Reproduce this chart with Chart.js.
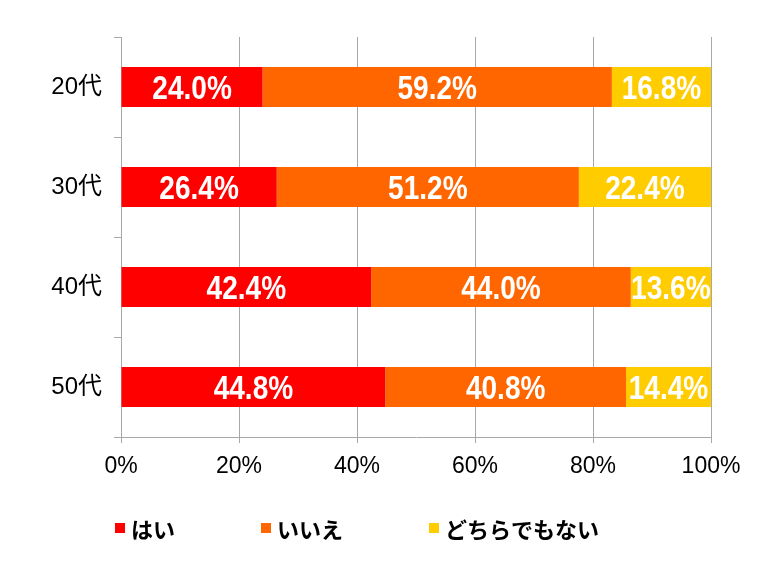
<!DOCTYPE html>
<html>
<head>
<meta charset="utf-8">
<script src="https://cdn.jsdelivr.net/npm/chart.js@4"></script>
<style>
    html, body { margin: 0; padding: 0; background: #fff; }
    #wrap { width: 768px; height: 569px; }
</style>
</head>
<body>
<div id="wrap"><canvas id="chart"></canvas></div>
<script>
const ageGroups = ['20代', '30代', '40代', '50代'];
const yesValues = [24.0, 26.4, 42.4, 44.8];
const noValues = [59.2, 51.2, 44.0, 40.8];
const neitherValues = [16.8, 22.4, 13.6, 14.4];
const seriesNames = ['はい', 'いいえ', 'どちらでもない'];
const seriesColors = ['#ff0000', '#ff6600', '#ffcc00'];
const percentTicks = [0, 20, 40, 60, 80, 100];

const gridGray = '#a8a8a8';
const axisFont = '"Liberation Sans", "Noto Sans CJK JP", Arial, sans-serif';

// white value labels centred in each segment
const barLabels = {
    id: 'barLabels',
    afterDatasetsDraw(chart) {
        const ctx = chart.ctx;
        ctx.save();
        ctx.fillStyle = '#fff';
        ctx.font = 'bold 33px "Liberation Sans", Arial, sans-serif';
        ctx.textAlign = 'center';
        ctx.textBaseline = 'middle';
        chart.data.datasets.forEach((ds, di) => {
            chart.getDatasetMeta(di).data.forEach((bar, i) => {
                const { x, y, base } = bar.getProps(['x', 'y', 'base'], true);
                ctx.save();
                ctx.translate((x + base) / 2, y + 3);
                ctx.scale(0.85, 1);
                ctx.fillText(ds.data[i].toFixed(1) + '%', 0, 0);
                ctx.restore();
            });
        });
        ctx.restore();
    },
};

// legend row under the axis
const bottomLegend = {
    id: 'bottomLegend',
    afterDraw(chart) {
        const ctx = chart.ctx;
        ctx.save();
        ctx.font = 'bold 22px "Noto Sans CJK JP", sans-serif';
        ctx.textBaseline = 'middle';
        let x = 115;
        const y = 529;
        chart.data.datasets.forEach((ds) => {
            ctx.fillStyle = ds.backgroundColor;
            ctx.fillRect(x, y - 6, 10, 10);
            ctx.fillStyle = '#000';
            ctx.fillText(ds.label, x + 16, y + 1);
            x += 16 + ctx.measureText(ds.label).width + 86;
        });
        ctx.restore();
    },
};

const seriesValues = [yesValues, noValues, neitherValues];

new Chart(document.getElementById('chart'), {
    type: 'bar',
    data: {
        labels: ageGroups,
        datasets: seriesNames.map((name, i) => ({
            label: name,
            data: seriesValues[i],
            backgroundColor: seriesColors[i],
            borderWidth: 0,
            barPercentage: 0.4,
            categoryPercentage: 1,
        })),
    },
    plugins: [barLabels, bottomLegend],
    options: {
        indexAxis: 'y',
        responsive: true,
        maintainAspectRatio: false,
        animation: false,
        layout: {
            padding: { top: 37, right: 57, left: 0, bottom: 0 },
        },
        plugins: {
            legend: { display: false },
            tooltip: { enabled: false },
        },
        scales: {
            x: {
                stacked: true,
                min: 0,
                max: 100,
                afterFit(scale) {
                    scale.height = 132;
                },
                afterBuildTicks(scale) {
                    scale.ticks = percentTicks.map((v) => ({ value: v }));
                },
                grid: {
                    color: gridGray,
                    tickLength: 6,
                },
                border: { color: gridGray },
                ticks: {
                    padding: 10,
                    color: '#000',
                    maxRotation: 0,
                    autoSkip: false,
                    font: { size: 23, family: axisFont },
                    callback(value) {
                        return value + '%';
                    },
                },
            },
            y: {
                stacked: true,
                afterFit(scale) {
                    scale.width = 121;
                },
                grid: {
                    drawOnChartArea: false,
                    color: gridGray,
                    tickLength: 7,
                    offset: true,
                },
                border: { color: gridGray },
                ticks: {
                    padding: 12,
                    color: '#000',
                    font: { size: 24, family: axisFont },
                },
            },
        },
    },
});
</script>
</body>
</html>
